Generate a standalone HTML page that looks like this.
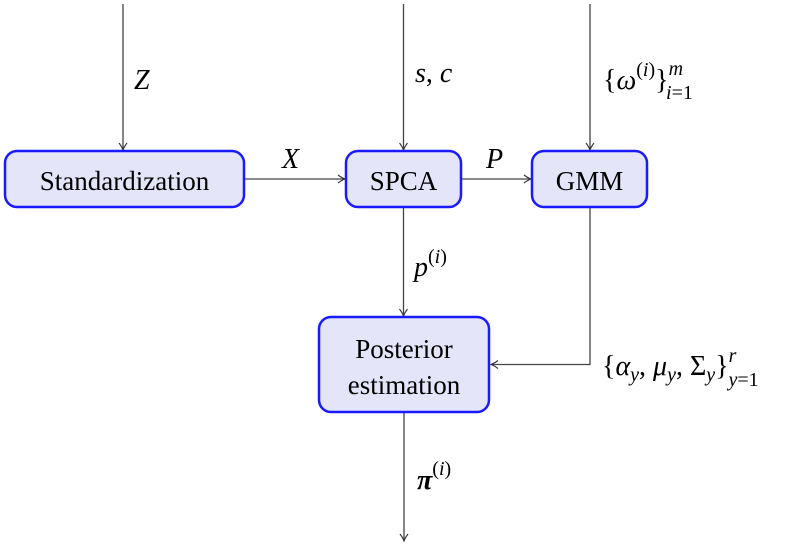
<!DOCTYPE html>
<html><head><meta charset="utf-8"><style>
html,body{margin:0;padding:0;background:#fff;}
svg{display:block;}
svg text, svg tspan{font-family:"Liberation Serif","Times New Roman",Tinos,"Nimbus Roman","DejaVu Serif",serif;}
.m{font-style:italic;}
</style></head><body>
<svg width="800" height="544" viewBox="0 0 800 544" xmlns="http://www.w3.org/2000/svg">
<defs>
<marker id="a" markerWidth="10" markerHeight="10" refX="8" refY="5" orient="auto" markerUnits="userSpaceOnUse">
<path d="M1,1 Q5,4 8,5 Q5,6 1,9" fill="none" stroke="#333" stroke-width="1.1"/>
</marker>
</defs>
<g stroke="#444" stroke-width="1.3" fill="none">
<line x1="123" y1="4" x2="123" y2="150" marker-end="url(#a)"/>
<line x1="403.5" y1="4" x2="403.5" y2="150" marker-end="url(#a)"/>
<line x1="590" y1="4" x2="590" y2="150" marker-end="url(#a)"/>
<line x1="244" y1="179" x2="345" y2="179" marker-end="url(#a)"/>
<line x1="461" y1="179" x2="531" y2="179" marker-end="url(#a)"/>
<line x1="403.5" y1="207" x2="403.5" y2="316" marker-end="url(#a)"/>
<polyline points="590,207 590,364.5 491,364.5" marker-end="url(#a)"/>
<line x1="404" y1="413" x2="404" y2="541" marker-end="url(#a)"/>
</g>
<g fill="#e5e5fa" stroke="#1a1aff" stroke-width="2.5">
<rect x="5" y="151" width="239" height="56" rx="12"/>
<rect x="346" y="151" width="115" height="56" rx="12"/>
<rect x="532" y="151" width="115" height="56" rx="12"/>
<rect x="319" y="317" width="170" height="95" rx="12"/>
</g>
<g font-size="27" text-anchor="middle" fill="#000">
<text x="124.5" y="190">Standardization</text>
<text x="403.5" y="190">SPCA</text>
<text x="589.5" y="190">GMM</text>
<text x="404" y="358">Posterior</text>
<text x="404" y="394">estimation</text>
</g>
<g font-size="28" fill="#000">
<text class="m" x="134" y="89">Z</text>
<text class="m" x="282" y="168">X</text>
<text class="m" x="486" y="168">P</text>
<text class="m" x="415" y="82">s<tspan font-style="normal">,</tspan> c</text>
<text x="603" y="89">{<tspan class="m">ω</tspan><tspan font-size="20" dy="-13">(<tspan class="m">i</tspan>)</tspan><tspan dy="13">}</tspan><tspan class="m" font-size="20" dy="-14">m</tspan><tspan font-size="20" dx="-17" dy="24"><tspan class="m">i</tspan>=1</tspan></text>
<text class="m" x="414" y="276">p<tspan font-style="normal" font-size="20" dy="-13">(<tspan class="m">i</tspan>)</tspan></text>
<text x="602" y="375">{<tspan class="m">α</tspan><tspan class="m" font-size="20" dy="6">y</tspan><tspan dy="-6">, </tspan><tspan class="m">μ</tspan><tspan class="m" font-size="20" dy="6">y</tspan><tspan dy="-6">, Σ</tspan><tspan class="m" font-size="20" dy="6">y</tspan><tspan dy="-6">}</tspan><tspan class="m" font-size="20" dy="-13">r</tspan><tspan font-size="20" dx="-8" dy="24"><tspan class="m">y</tspan>=1</tspan></text>
<text x="417" y="489" font-weight="bold" class="m">π<tspan font-weight="normal" font-style="normal" font-size="20" dy="-14">(<tspan class="m">i</tspan>)</tspan></text>
</g>
</svg>
</body></html>
